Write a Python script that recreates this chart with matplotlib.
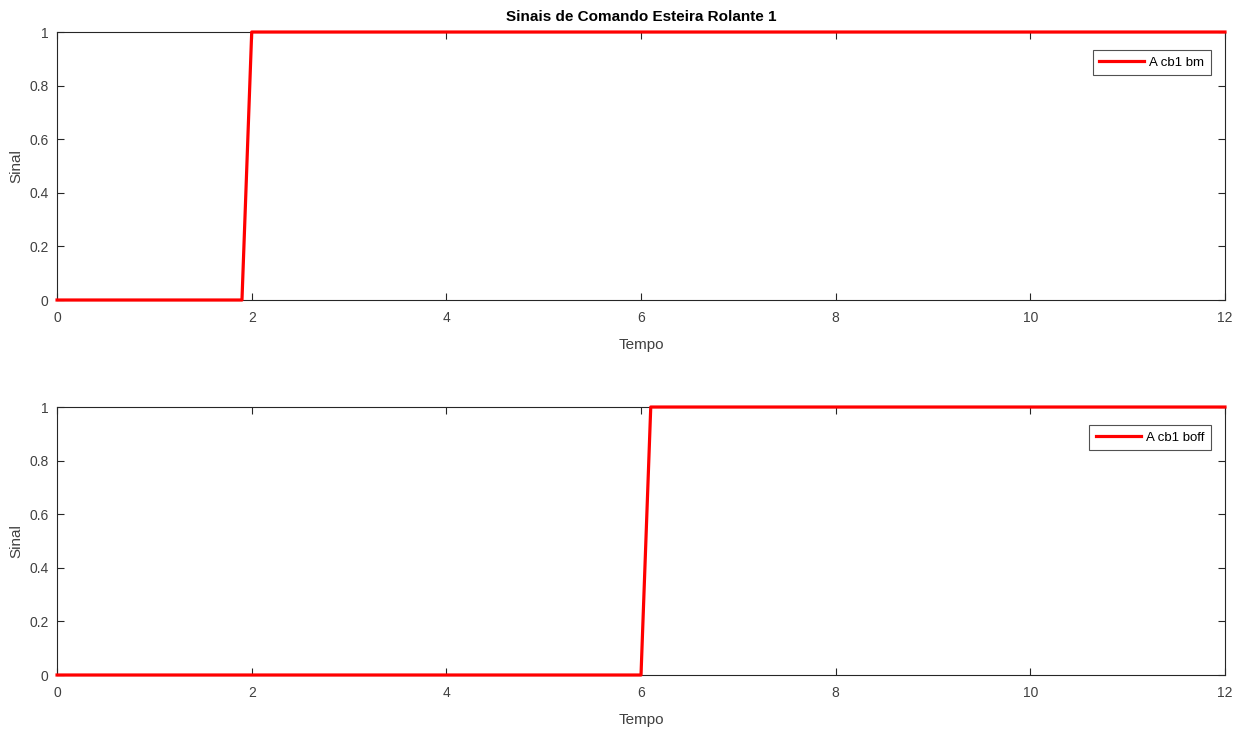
import matplotlib.pyplot as plt

plt.rcParams['font.family'] = ['Liberation Sans', 'DejaVu Sans']

# sinais de comando da esteira 1
t_bm = [0, 1.9, 2.0, 12]
a_bm = [0, 0, 1, 1]
t_boff = [0, 6.0, 6.1, 12]
a_boff = [0, 0, 1, 1]

xticks = [0, 2, 4, 6, 8, 10, 12]
yticks = [0, 0.2, 0.4, 0.6, 0.8, 1]

fig = plt.figure(figsize=(12.43, 7.31), dpi=100)
ax1 = fig.add_axes([0.0459, 0.5896, 0.9396, 0.3666])
ax2 = fig.add_axes([0.0459, 0.0766, 0.9396, 0.3666])

series = [(ax1, t_bm, a_bm, 'A cb1 bm'), (ax2, t_boff, a_boff, 'A cb1 boff')]
for ax, t, a, lab in series:
    ax.plot(t, a, color='#ff0000', lw=2.3, label=lab, clip_on=False, zorder=3)
    ax.set_xlim(0, 12)
    ax.set_ylim(0, 1)
    ax.set_xticks(xticks)
    ax.set_yticks(yticks)
    ax.set_yticklabels(['0', '0.2', '0.4', '0.6', '0.8', '1'])
    ax.tick_params(direction='in', top=True, right=True, length=5,
                   width=0.8, colors='#262626', labelcolor='#404040',
                   labelsize=10)
    ax.tick_params(axis='x', pad=8)
    ax.tick_params(axis='y', pad=6)
    for s in ax.spines.values():
        s.set_color('#262626')
        s.set_linewidth(0.8)
    ax.set_xlabel('Tempo', fontsize=11, color='#404040', labelpad=9)
    ax.set_ylabel('Sinal', fontsize=11, color='#404040', labelpad=4)
    leg = ax.legend(loc='upper right', bbox_to_anchor=(0.988, 0.933),
                    borderaxespad=0, fontsize=9.5, fancybox=False,
                    handlelength=3.4, handletextpad=0.4, borderpad=0.5)
    leg.get_frame().set_edgecolor('#262626')
    leg.get_frame().set_linewidth(0.8)

ax1.set_title('Sinais de Comando Esteira Rolante 1', fontsize=11,
              fontweight='bold', pad=8)

fig.savefig('out.png', dpi=100)
